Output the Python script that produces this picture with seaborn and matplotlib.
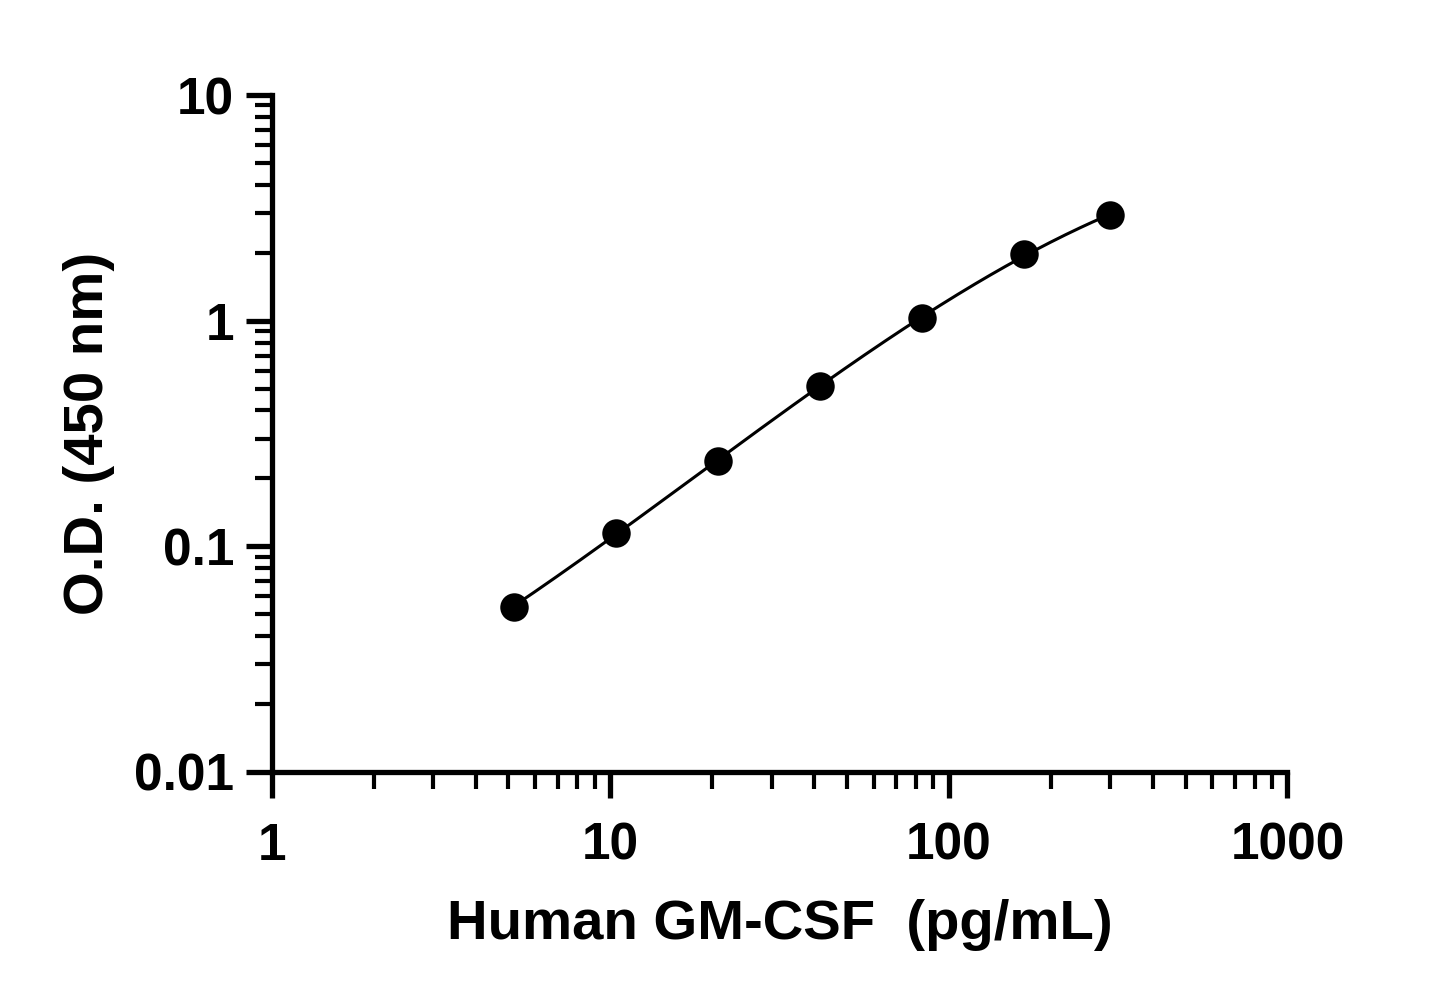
import numpy as np
import pandas as pd
import matplotlib
matplotlib.use('Agg')
import matplotlib.pyplot as plt
import seaborn as sns
from matplotlib.ticker import LogLocator, FixedFormatter, FixedLocator, NullFormatter

# standard curve readings
conc = [5.2, 10.4, 20.8, 41.7, 83.3, 166.7, 300.0]
od = [0.054, 0.115, 0.239, 0.513, 1.03, 1.97, 2.94]

x_ticks = [1, 10, 100, 1000]
x_tick_labels = ["1", "10", "100", "1000"]
y_ticks = [0.01, 0.1, 1, 10]
y_tick_labels = ["0.01", "0.1", "1", "10"]

sns.set_theme(style="white")
plt.rcParams['font.family'] = ['Liberation Sans', 'DejaVu Sans']
plt.rcParams['font.weight'] = 'bold'

df = pd.DataFrame({"conc": conc, "od": od})

# smooth fit in log-log space
coef = np.polyfit(np.log10(df["conc"]), np.log10(df["od"]), 3)
lx = np.linspace(np.log10(df["conc"].min()), np.log10(df["conc"].max()), 200)
fit = pd.DataFrame({"conc": 10 ** lx, "od": 10 ** np.polyval(coef, lx)})

fig = plt.figure(figsize=(14.45, 10.01), dpi=100)
ax = fig.add_axes([0.188, 0.229, 0.703, 0.676])

sns.lineplot(data=fit, x="conc", y="od", ax=ax, color="black", linewidth=2.2)
sns.scatterplot(data=df, x="conc", y="od", ax=ax, color="black", s=420, linewidth=0, zorder=3)

ax.set_xscale("log")
ax.set_yscale("log")
ax.set_xlim(1, 1000)
ax.set_ylim(0.01, 10)

ax.xaxis.set_major_locator(FixedLocator(x_ticks))
ax.xaxis.set_major_formatter(FixedFormatter(x_tick_labels))
ax.yaxis.set_major_locator(FixedLocator(y_ticks))
ax.yaxis.set_major_formatter(FixedFormatter(y_tick_labels))
ax.xaxis.set_minor_locator(LogLocator(base=10, subs=np.arange(2, 10)))
ax.yaxis.set_minor_locator(LogLocator(base=10, subs=np.arange(2, 10)))
ax.xaxis.set_minor_formatter(NullFormatter())
ax.yaxis.set_minor_formatter(NullFormatter())

for s in ["top", "right"]:
    ax.spines[s].set_visible(False)
for s in ["left", "bottom"]:
    ax.spines[s].set_linewidth(3.8)
    ax.spines[s].set_color("black")

ax.tick_params(which="major", direction="out", length=19, width=3.8, colors="black",
               labelsize=37, left=True, bottom=True)
ax.tick_params(which="minor", direction="out", length=12, width=3, colors="black",
               left=True, bottom=True)
ax.tick_params(axis="x", which="major", pad=17)
ax.tick_params(axis="y", which="major", pad=8)
for lab in ax.get_xticklabels() + ax.get_yticklabels():
    lab.set_fontweight("bold")

ax.set_xlabel("Human GM-CSF  (pg/mL)", fontsize=40.5, fontweight="bold", color="black", labelpad=20)
ax.set_ylabel("O.D. (450 nm)", fontsize=40.5, fontweight="bold", color="black", labelpad=14)

fig.savefig("out.png", dpi=100)
